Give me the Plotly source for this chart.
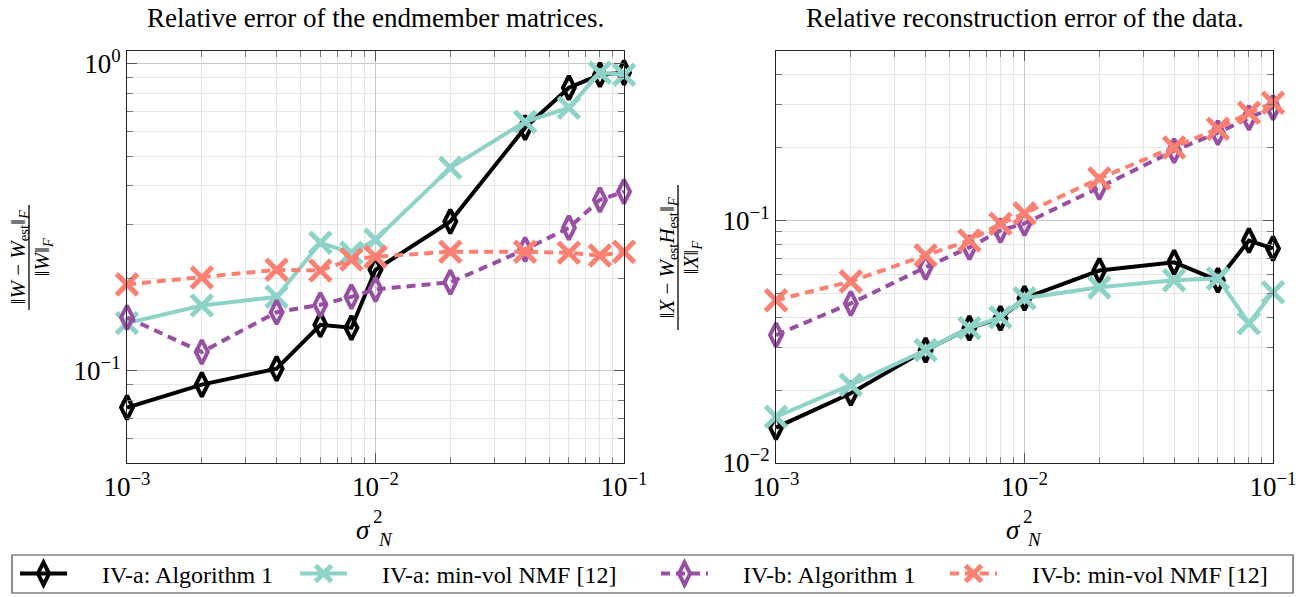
import plotly.graph_objects as go

# ---------------- data ----------------
sigma2 = [1e-3, 2e-3, 4e-3, 6e-3, 8e-3, 1e-2, 2e-2, 4e-2, 6e-2, 8e-2, 1e-1]

# Left: relative error of endmember matrices
w_a_alg1 = [0.0758, 0.090, 0.1015, 0.141, 0.138, 0.213, 0.306, 0.619, 0.835, 0.920, 0.935]
w_a_mvnmf = [0.143, 0.163, 0.174, 0.261, 0.242, 0.267, 0.458, 0.647, 0.719, 0.935, 0.920]
w_b_alg1 = [0.149, 0.115, 0.155, 0.164, 0.174, 0.184, 0.194, 0.248, 0.292, 0.360, 0.383]
w_b_mvnmf = [0.191, 0.201, 0.213, 0.212, 0.230, 0.235, 0.244, 0.244, 0.242, 0.237, 0.244]

# Right: relative reconstruction error of the data
x_a_alg1 = [0.0140, 0.0194, 0.0292, 0.0360, 0.0395, 0.0478, 0.0622, 0.0672, 0.0567, 0.0827, 0.0767]
x_a_mvnmf = [0.0155, 0.0210, 0.0292, 0.0360, 0.0399, 0.0478, 0.0530, 0.0567, 0.0577, 0.0377, 0.0506]
x_b_alg1 = [0.0337, 0.0455, 0.0641, 0.0774, 0.0910, 0.0972, 0.137, 0.194, 0.230, 0.265, 0.292]
x_b_mvnmf = [0.0469, 0.0561, 0.0718, 0.0827, 0.097, 0.107, 0.149, 0.200, 0.239, 0.278, 0.306]

series_names = ["IV-a: Algorithm 1", "IV-a: min-vol NMF [12]",
                "IV-b: Algorithm 1", "IV-b: min-vol NMF [12]"]
titles = ["Relative error of the endmember matrices.",
          "Relative reconstruction error of the data."]

x_tickvals = [1e-3, 1e-2, 1e-1]
x_ticktext = ["10<sup>−3</sup>", "10<sup>−2</sup>", "10<sup>−1</sup>"]
yl_tickvals = [0.1, 1.0]
yl_ticktext = ["10<sup>−1</sup>", "10<sup>0</sup>"]
yr_tickvals = [0.01, 0.1]
yr_ticktext = ["10<sup>−2</sup>", "10<sup>−1</sup>"]

# ---------------- style ----------------
FONT = "Liberation Serif"
W, H = 1305, 597
colors = ["#000000", "#8dd3c7", "#984ea3", "#fb8072"]
symbols = ["diamond-tall-open", "x-thin", "diamond-tall-open", "x-thin"]
dashes = ["solid", "solid", "9px,6px", "9px,6px"]
msizes = [17, 21, 17, 21]
mlw = [4, 5, 4, 5]
EPS = 1e-6


def px(v):
    return v / W


def py(v):
    return 1 - v / H


xdom1 = [px(127), px(624)]
xdom2 = [px(776), px(1273)]
ydom = [py(463), py(51)]

fig = go.Figure()

left_data = [w_a_alg1, w_a_mvnmf, w_b_alg1, w_b_mvnmf]
right_data = [x_a_alg1, x_a_mvnmf, x_b_alg1, x_b_mvnmf]
legend_ids = ["legend", "legend2", "legend3", "legend4"]
PAD = "\u00a0" * 5

for i in range(4):
    for side, data in enumerate([left_data, right_data]):
        fig.add_trace(go.Scatter(
            x=sigma2, y=data[i], mode="lines+markers",
            name=PAD + series_names[i],
            xaxis="x" if side == 0 else "x2",
            yaxis="y" if side == 0 else "y2",
            line=dict(color=colors[i], width=4, dash=dashes[i]),
            marker=dict(symbol=symbols[i], size=msizes[i], color=colors[i],
                        line=dict(color=colors[i], width=mlw[i])),
            cliponaxis=False,
            showlegend=(side == 0),
            legend=legend_ids[i],
        ))


def minor_vals(lo_exp, hi_exp, lo, hi):
    out = []
    for e in range(lo_exp, hi_exp + 1):
        for m in range(2, 10):
            v = m * 10 ** e
            if lo < v < hi:
                out.append(v)
    return out


axis_common = dict(
    type="log", showline=True, linecolor="#222", linewidth=1, mirror="allticks",
    ticks="inside", ticklen=10, tickwidth=1, tickcolor="#555",
    showgrid=True, gridcolor="#c8c8c8", gridwidth=1.2, zeroline=False,
    tickfont=dict(family=FONT, size=27, color="#000"),
)
minor_common = dict(ticks="inside", ticklen=6, tickwidth=1, tickcolor="#777",
                    showgrid=True, gridcolor="#e6e6e6", gridwidth=1.2, tickmode="array")

fig.update_layout(
    xaxis=dict(axis_common, domain=xdom1, anchor="y", range=[-3 - EPS, -1 + EPS],
               tickmode="array", tickvals=x_tickvals, ticktext=x_ticktext,
               minor=dict(minor_common, tickvals=minor_vals(-3, -2, 1e-3, 1e-1))),
    yaxis=dict(axis_common, domain=ydom, anchor="x", range=[-1.30103, 0.041393],
               tickmode="array", tickvals=yl_tickvals, ticktext=yl_ticktext,
               minor=dict(minor_common, tickvals=minor_vals(-2, 0, 0.05, 1.1))),
    xaxis2=dict(axis_common, domain=xdom2, anchor="y2", range=[-3 - EPS, -1 + EPS],
                tickmode="array", tickvals=x_tickvals, ticktext=x_ticktext,
                minor=dict(minor_common, tickvals=minor_vals(-3, -2, 1e-3, 1e-1))),
    yaxis2=dict(axis_common, domain=ydom, anchor="x2", range=[-2 - EPS, -0.30103],
                tickmode="array", tickvals=yr_tickvals, ticktext=yr_ticktext,
                minor=dict(minor_common, tickvals=minor_vals(-2, -1, 0.01, 0.5))),
)

legend_common = dict(orientation="h", xanchor="left", yanchor="middle", y=py(574),
                     font=dict(family=FONT, size=24, color="#000"),
                     bgcolor="rgba(0,0,0,0)", borderwidth=0, itemwidth=47)
leg_x = [15, 295, 656, 945]
fig.update_layout(
    legend=dict(legend_common, x=px(leg_x[0])),
    legend2=dict(legend_common, x=px(leg_x[1])),
    legend3=dict(legend_common, x=px(leg_x[2])),
    legend4=dict(legend_common, x=px(leg_x[3])),
)

shapes = [dict(type="rect", xref="paper", yref="paper",
               x0=px(12), x1=px(1293), y0=py(593), y1=py(555),
               line=dict(color="#444", width=1.2), fillcolor="rgba(0,0,0,0)")]

annotations = []
# titles
for t, cx in zip(titles, [375.5, 1024.5]):
    annotations.append(dict(text=t, x=px(cx), y=py(18), xref="paper", yref="paper",
                            showarrow=False, xanchor="center", yanchor="middle",
                            font=dict(family=FONT, size=27, color="#000")))
# x-axis labels sigma_N^2
for cx in [375, 1024.5]:
    annotations.append(dict(text="<i>σ</i>", x=px(cx - 11), y=py(530), xref="paper", yref="paper",
                            showarrow=False, xanchor="center", yanchor="middle",
                            font=dict(family=FONT, size=27, color="#000")))
    annotations.append(dict(text="2", x=px(cx + 3), y=py(516), xref="paper", yref="paper",
                            showarrow=False, xanchor="center", yanchor="middle",
                            font=dict(family=FONT, size=19, color="#000")))
    annotations.append(dict(text="<i>N</i>", x=px(cx + 10), y=py(539), xref="paper", yref="paper",
                            showarrow=False, xanchor="center", yanchor="middle",
                            font=dict(family=FONT, size=19, color="#000")))

# y-axis fraction labels
frac_specs = [
    ("‖<i>W</i> − <i>W</i><sub>est</sub>‖<sub><i>F</i></sub>", "‖<i>W</i>‖<sub><i>F</i></sub>",
     18, 29, 42, 205, 310),
    ("‖<i>X</i> − <i>W</i><sub>est</sub><i>H</i><sub>est</sub>‖<sub><i>F</i></sub>",
     "‖<i>X</i>‖<sub><i>F</i></sub>", 667, 678, 691, 185, 330),
]
for num, den, xn, xb, xd, y0, y1 in frac_specs:
    annotations.append(dict(text=num, x=px(xn), y=py((y0 + y1) / 2), xref="paper", yref="paper",
                            showarrow=False, textangle=-90, xanchor="center", yanchor="middle",
                            font=dict(family=FONT, size=21, color="#000")))
    annotations.append(dict(text=den, x=px(xd), y=py((y0 + y1) / 2), xref="paper", yref="paper",
                            showarrow=False, textangle=-90, xanchor="center", yanchor="middle",
                            font=dict(family=FONT, size=21, color="#000")))
    shapes.append(dict(type="line", xref="paper", yref="paper", x0=px(xb), x1=px(xb),
                       y0=py(y0), y1=py(y1), line=dict(color="#000", width=1.3)))

fig.update_layout(
    width=W, height=H, autosize=False,
    margin=dict(l=0, r=0, t=0, b=0, autoexpand=False),
    paper_bgcolor="white", plot_bgcolor="white",
    font=dict(family=FONT, color="#000"),
    shapes=shapes, annotations=annotations,
)

fig.write_html("out.html", config={"displayModeBar": False},
               post_script="document.body.style.margin='0';document.body.style.overflow='hidden';")
